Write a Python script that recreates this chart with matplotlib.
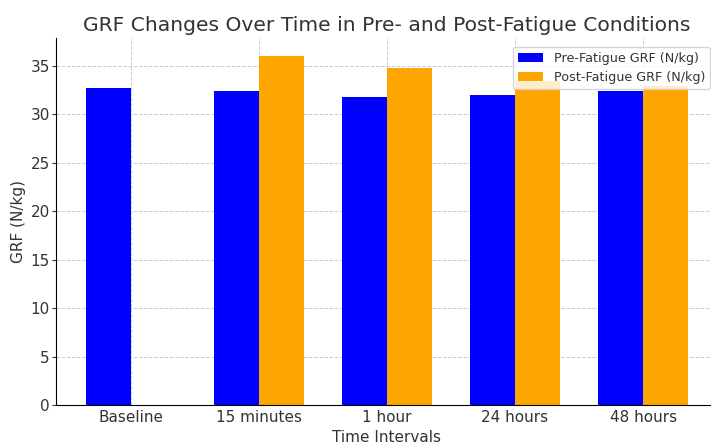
import numpy as np
import matplotlib
matplotlib.use("Agg")
import matplotlib.pyplot as plt

# Data
intervals = ["Baseline", "15 minutes", "1 hour", "24 hours", "48 hours"]
pre_fatigue = [32.75, 32.4, 31.85, 32.05, 32.45]
post_fatigue = [np.nan, 36.05, 34.75, 33.45, 32.9]

text_color = "#333333"

fig = plt.figure(figsize=(7.11, 4.45), dpi=100)
ax = fig.add_axes([0.0788, 0.0888, 0.931, 0.8252])

x = np.arange(len(intervals))
width = 0.35

ax.bar(x - width / 2, pre_fatigue, width, color="#0000FF", label="Pre-Fatigue GRF (N/kg)")
ax.bar(x + width / 2, post_fatigue, width, color="#FFA500", label="Post-Fatigue GRF (N/kg)")

ax.set_xticks(x)
ax.set_xticklabels(intervals)
ax.tick_params(labelsize=11, colors=text_color)
ax.tick_params(axis="x", length=0, pad=3.5)
ax.tick_params(axis="y", length=3, pad=1.5)
ax.set_xlabel("Time Intervals", fontsize=11, color=text_color, labelpad=3)
ax.set_ylabel("GRF (N/kg)", fontsize=11, color=text_color, labelpad=3)
ax.set_title("GRF Changes Over Time in Pre- and Post-Fatigue Conditions",
             fontsize=14.6, color=text_color, pad=5)

ax.grid(True, linestyle="--", color="#cccccc", linewidth=0.7)
ax.set_axisbelow(True)
for side in ["top", "right"]:
    ax.spines[side].set_visible(False)

ax.legend(loc="upper right", bbox_to_anchor=(0.9986, 0.895), borderaxespad=0,
          bbox_transform=fig.transFigure, fontsize=9.2, labelcolor=text_color)

fig.savefig("out.png", dpi=100)
